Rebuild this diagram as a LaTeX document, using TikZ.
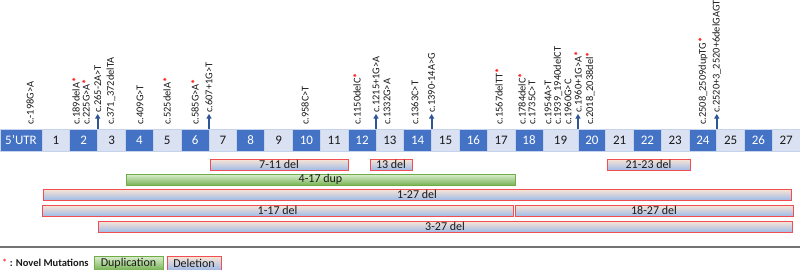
\documentclass[tikz,border=0pt]{standalone}
\usepackage{fontspec}
\setmainfont{Carlito}
\usetikzlibrary{arrows.meta}
\definecolor{exdark}{HTML}{4472C4}
\definecolor{exlight}{HTML}{D9E1F2}
\definecolor{exline}{HTML}{C5D3EC}
\definecolor{splblue}{HTML}{2F5597}
\definecolor{delred}{HTML}{F04E52}
\definecolor{deltop}{HTML}{FCE6D4}
\definecolor{delbot}{HTML}{A0BBE8}
\definecolor{dupline}{HTML}{70AD47}
\definecolor{duptop}{HTML}{DDEED2}
\definecolor{dupbot}{HTML}{78B455}
\newcommand\novel{\textcolor{red}{\bfseries*}}
\begin{document}
\begin{tikzpicture}[x=1pt, y=-1pt,
    dk/.style={fill=exdark, draw=exline, line width=0.8pt, text=white,
      font=\fontsize{13}{14}\selectfont},
    lt/.style={fill=exlight, draw=exline, line width=0.8pt, text=black!90,
      font=\fontsize{13}{14}\selectfont},
    mut/.style={rotate=90, anchor=west, inner sep=1pt, text=black!90,
      font=\fontsize{10.4}{11}\selectfont},
    splice/.style={splblue, line width=1.8pt,
      -{Triangle[width=5pt, length=4.5pt]}},
    del/.style={draw=delred, line width=0.9pt, top color=deltop,
      bottom color=delbot, font=\fontsize{12}{12}\selectfont},
    dup/.style={draw=dupline, line width=0.9pt, top color=duptop,
      bottom color=dupbot, font=\fontsize{12}{12}\selectfont},
    lbl/.style={inner sep=0pt, text=black!90}]
            \useasboundingbox (0,0) rectangle (800,270);
            \def\top{129}
            \def\bot{151}
            \draw[dk] (0,\top) rectangle (42,\bot) node[midway] (utr) {5’UTR};
            \foreach \n/\a/\b/\s in {1/42/69.8/lt, 2/69.8/97.7/dk,
              3/97.7/125.5/lt, 4/125.5/153.3/dk, 5/153.3/181.2/lt,
              6/181.2/209/dk, 7/209/236.8/lt, 8/236.8/264.6/dk,
              9/264.6/292.5/lt, 10/292.5/320.3/dk, 11/320.3/348.1/lt,
              12/348.1/376/dk, 13/376/403.8/lt, 14/403.8/431.6/dk,
              15/431.6/459.4/lt, 16/459.4/487.3/dk, 17/487.3/515.1/lt,
              18/515.1/543/dk, 19/543/578/lt, 20/578/605.8/dk,
              21/605.8/633.5/lt, 22/633.5/661.3/dk, 23/661.3/689/lt,
              24/689/716.8/dk, 25/716.8/744.5/lt, 26/744.5/772.3/dk,
              27/772.3/800/lt}
            {
              \draw[\s] (\a,\top) rectangle (\b,\bot) node[midway] (e\n) {\n};
              \coordinate (b\n) at (\b,\top);
            }
            \foreach \x/\t [count=\i] in {30/c.-198G>A, 76/c.189delA\novel,
              86/c.225G>A\novel, 111/c.371\_372delTA, 140/c.409G>T,
              167/c.525delA\novel, 195/c.585G>A\novel, 305/c.958C>T,
              357/c.1150delC\novel, 387/c.1332G>A, 415/c.1363C>T,
              499/c.1567delTT\novel, 522/c.1784delC\novel, 532/c.1735C>T,
              548/c.1954A>T, 558/c.1939\_1940delCT, 568/c.1960G>C,
              590/c.2018\_2038del\novel, 703/c.2508\_2509dupTG\novel}
              \node[mut] (m\i) at (\x,126) {\t};
            \foreach \e/\t in {2/c.265-2A>T, 6/c.607+1G>T, 12/c.1215+1G>A,
              14/c.1390-14A>G, 19/c.1960+1G>A\novel,
              24/c.2520+3\_2520+6delGAGT}
            {
              \path (b\e) ++(0,-15) node[mut] (s\e) {\t};
              \draw[splice] (b\e) -- (s\e.west);
            }
            \draw[del] (210,159) rectangle (348,170) node[midway, lbl] (d711) {7-11 del};
            \draw[del] (370,159) rectangle (412,170) node[midway, lbl] (d13) {13 del};
            \draw[del] (607,159) rectangle (690,170) node[midway, lbl] (d2123) {21-23 del};
            \draw[dup] (126,174) rectangle (515,185) node[midway, lbl] (u417) {4-17 dup};
            \draw[del] (43,189) rectangle (791,200) node[midway, lbl] (d127) {1-27 del};
            \draw[del] (42,205) rectangle (513,216) node[midway, lbl] (d117) {1-17 del};
            \draw[del] (515,205) rectangle (793,216) node[midway, lbl] (d1827) {18-27 del};
            \draw[del] (98,221) rectangle (792,232) node[midway, lbl] (d327) {3-27 del};
            \draw[black!55, line width=1.3pt] (0,247) -- (800,247);
            \node[lbl, anchor=west, font=\fontsize{10.5}{11}\selectfont] (nov) at (2,263)
              {\textcolor{red}{*}\textbf{ : Novel Mutations}};
            \draw[dup] (94,256) rectangle (163,270) node[midway, lbl] (ldup) {Duplication};
            \draw[del] (167,256) rectangle (221,270) node[midway, lbl] (ldel) {Deletion};
          \end{tikzpicture}
\end{document}
